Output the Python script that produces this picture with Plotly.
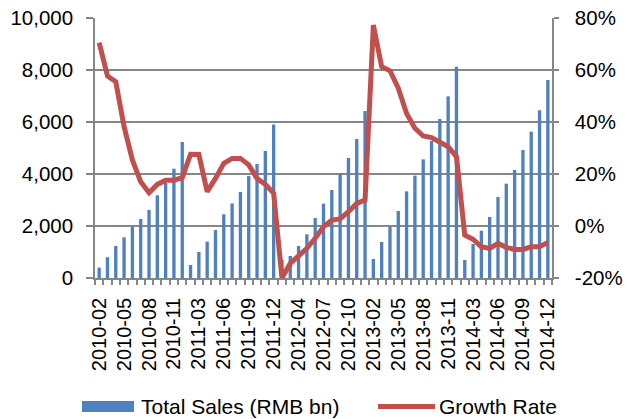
import plotly.graph_objects as go

years = ["2010", "2011", "2012", "2013", "2014"]
months = ["02", "03", "04", "05", "06", "07", "08", "09", "10", "11", "12"]
categories = [f"{y}-{m}" for y in years for m in months]

total_sales = [
    400, 800, 1230, 1565, 1970, 2270, 2615, 3180, 3665, 4205, 5230,
    500, 1000, 1400, 1845, 2450, 2870, 3310, 3920, 4385, 4885, 5900,
    700, 846, 1230, 1680, 2308, 2860, 3385, 4025, 4615, 5346, 6423,
    730, 1385, 1975, 2577, 3333, 3936, 4564, 5270, 6115, 6988, 8128,
    692, 1308, 1820, 2346, 3115, 3628, 4154, 4923, 5628, 6449, 7615,
]
growth_rate = [
    70.5, 57.7, 55.5, 38.2, 25.4, 17.0, 12.8, 16.0, 17.6, 17.6, 18.6,
    27.6, 27.5, 13.2, 18.3, 24.1, 26.0, 26.0, 23.5, 18.3, 16.0, 12.6,
    -20.0, -14.4, -11.5, -8.6, -4.7, -0.3, 2.3, 2.7, 5.5, 8.7, 10.0,
    77.3, 61.3, 59.7, 53.0, 43.3, 37.6, 34.6, 34.0, 32.4, 30.5, 26.7,
    -3.5, -5.1, -8.0, -8.6, -6.7, -8.2, -9.0, -9.0, -8.0, -8.0, -6.3,
]
left_ticks = [0, 2000, 4000, 6000, 8000, 10000]
left_labels = ["0", "2,000", "4,000", "6,000", "8,000", "10,000"]
right_ticks = [-20, 0, 20, 40, 60, 80]
right_labels = ["-20%", "0%", "20%", "40%", "60%", "80%"]

idx = list(range(len(categories)))
BLUE = "#4F81BD"
RED = "#C0504D"
GRAY = "#868686"
FONT = "Liberation Sans, Arial, sans-serif"

fig = go.Figure()
fig.add_trace(go.Bar(x=idx, y=total_sales, name="Total Sales (RMB bn)",
                     marker=dict(color=BLUE, line=dict(width=0))))
fig.add_trace(go.Scatter(x=idx, y=growth_rate, name="Growth Rate", yaxis="y2",
                         mode="lines", line=dict(color=RED, width=5)))

W, H = 627, 419
L, R, T, B = 95, 627 - 552, 18, 419 - 278
pw, ph = W - L - R, H - T - B

def px_x(px):
    return (px - L) / pw

def px_y(py):
    return (H - B - py) / ph

fig.update_layout(
    width=W, height=H,
    margin=dict(l=L, r=R, t=T, b=B, autoexpand=False),
    plot_bgcolor="white", paper_bgcolor="white",
    showlegend=False,
    bargap=0.6,
    font=dict(family=FONT, size=20, color="#000000"),
    xaxis=dict(
        automargin=False,
        range=[-0.5, len(categories) - 0.5],
        tickmode="array", tickvals=idx[::3], ticktext=categories[::3],
        tickangle=-90, ticks="", showgrid=False,
        showline=True, linecolor=GRAY, linewidth=1.5,
        tickfont=dict(size=20),
        ticklabelstandoff=10,
        ticklabeloverflow="allow",
        minor=dict(tickmode="array", tickvals=[i - 0.5 for i in range(len(categories) + 1)],
                   ticks="outside", ticklen=5, tickcolor=GRAY, tickwidth=1.5, showgrid=False),
        zeroline=False,
    ),
    yaxis=dict(
        automargin=False,
        range=[0, 10000], tickmode="array", tickvals=left_ticks, ticktext=left_labels,
        showgrid=True, gridcolor=GRAY, gridwidth=1.5,
        showline=True, linecolor=GRAY, linewidth=1.5,
        ticks="outside", ticklen=7, tickcolor=GRAY, tickwidth=1.5,
        ticklabelstandoff=9,
        ticklabeloverflow="allow",
        tickfont=dict(size=20.5),
        zeroline=False,
    ),
    yaxis2=dict(
        automargin=False,
        range=[-20, 80], tickmode="array", tickvals=right_ticks, ticktext=right_labels,
        overlaying="y", side="right", showgrid=False,
        showline=True, linecolor=GRAY, linewidth=1.5,
        ticks="outside", ticklen=5, tickcolor=GRAY, tickwidth=1.5,
        ticklabelstandoff=12,
        ticklabeloverflow="allow",
        tickfont=dict(size=20.5),
        zeroline=False,
    ),
)

# manual legend (positions given in page pixels)
fig.add_shape(type="rect", xref="paper", yref="paper",
              x0=px_x(82), x1=px_x(134), y0=px_y(412), y1=px_y(401),
              fillcolor=BLUE, line=dict(width=0))
fig.add_shape(type="line", xref="paper", yref="paper",
              x0=px_x(378), x1=px_x(435), y0=px_y(406.5), y1=px_y(406.5),
              line=dict(color=RED, width=5))
fig.add_annotation(text="Total Sales (RMB bn)", xref="paper", yref="paper",
                   x=px_x(139), y=px_y(406), xanchor="left", yanchor="middle",
                   showarrow=False, font=dict(size=21))
fig.add_annotation(text="Growth Rate", xref="paper", yref="paper",
                   x=px_x(437), y=px_y(406), xanchor="left", yanchor="middle",
                   showarrow=False, font=dict(size=21))

fig.write_html("out.html", config={"displayModeBar": False},
               post_script="document.body.style.margin='0';")
